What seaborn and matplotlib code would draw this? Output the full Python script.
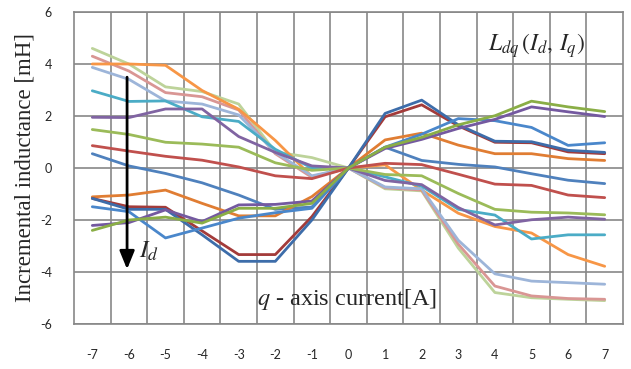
import numpy as np
import pandas as pd
import matplotlib
matplotlib.use("Agg")
import matplotlib.pyplot as plt
import seaborn as sns

q_current = [-7, -6, -5, -4, -3, -2, -1, 0, 1, 2, 3, 4, 5, 6, 7]
y_ticks = [-6, -4, -2, 0, 2, 4, 6]

s_a = [4.6, 4.0, 3.12, 2.94, 2.46, 0.62, 0.40, 0, -0.80, -0.88, -3.08, -4.79, -4.99, -5.05, -5.10]
s_b = [4.3, 3.73, 2.90, 2.74, 2.23, 0.55, -0.36, 0, -0.76, -0.85, -2.93, -4.54, -4.92, -5.02, -5.05]
s_c = [4.0, 4.0, 3.95, 2.98, 2.26, 1.06, -0.33, 0, 0.12, -0.85, -1.74, -2.25, -2.50, -3.33, -3.78]
s_d = [3.87, 3.41, 2.58, 2.46, 2.04, 0.60, -0.30, 0, -0.73, -0.80, -2.78, -4.07, -4.35, -4.41, -4.47]
s_e = [2.97, 2.56, 2.58, 1.97, 1.79, 0.72, 0.0, 0, -0.34, -0.70, -1.59, -1.81, -2.73, -2.57, -2.57]
s_f = [1.95, 1.94, 2.27, 2.27, 1.21, 0.60, 0.08, 0, -0.48, -0.64, -1.52, -2.19, -1.99, -1.89, -1.97]
s_g = [1.48, 1.29, 0.99, 0.92, 0.80, 0.20, -0.09, 0, -0.25, -0.30, -0.98, -1.59, -1.70, -1.73, -1.80]
s_h = [0.86, 0.65, 0.45, 0.30, 0.04, -0.30, -0.41, 0, 0.18, 0.13, -0.24, -0.62, -0.67, -1.04, -1.14]
s_i = [0.55, 0.08, -0.21, -0.57, -1.04, -1.59, -1.50, 0, 0.80, 0.29, 0.14, 0.04, -0.22, -0.47, -0.60]
s_j = [-1.11, -1.04, -0.85, -1.36, -1.84, -1.84, -1.10, 0, 1.08, 1.34, 0.88, 0.55, 0.55, 0.36, 0.29]
s_k = [-1.17, -1.49, -1.51, -2.42, -3.33, -3.33, -1.87, 0, 1.97, 2.43, 1.62, 0.99, 0.97, 0.62, 0.55]
s_l = [-1.17, -1.59, -1.59, -2.57, -3.59, -3.59, -2.00, 0, 2.10, 2.61, 1.66, 1.03, 1.01, 0.68, 0.60]
s_m = [-1.49, -1.68, -2.69, -2.31, -1.93, -1.72, -1.55, 0, 0.80, 1.30, 1.90, 1.82, 1.56, 0.87, 0.97]
s_n = [-2.21, -2.10, -1.61, -2.06, -1.42, -1.40, -1.27, 0, 0.75, 1.10, 1.52, 1.87, 2.35, 2.16, 1.98]
s_o = [-2.40, -2.00, -1.89, -2.12, -1.55, -1.55, -1.36, 0, 0.80, 1.18, 1.66, 2.01, 2.57, 2.35, 2.17]

series = {
    "a": s_a, "b": s_b, "c": s_c, "d": s_d, "e": s_e, "f": s_f, "g": s_g, "h": s_h,
    "i": s_i, "j": s_j, "k": s_k, "l": s_l, "m": s_m, "n": s_n, "o": s_o,
}
colors = {
    "a": "#BDD39A", "b": "#D99694", "c": "#F79646", "d": "#9DB5D9", "e": "#4BACC6",
    "f": "#8064A2", "g": "#9BBB59", "h": "#C0504D", "i": "#4F81BD", "j": "#E07D33",
    "k": "#A33B3A", "l": "#3D6DAA", "m": "#4A87CB", "n": "#7459A0", "o": "#8AAE46",
}

rows = []
for name, vals in series.items():
    for qv, v in zip(q_current, vals):
        rows.append({"q": qv, "L": v, "s": name})
df = pd.DataFrame(rows)

sns.set_style("white")
plt.rcParams["mathtext.fontset"] = "stix"

fig = plt.figure(figsize=(6.31, 3.69), dpi=100)
ax = fig.add_axes([74 / 631, 1 - 324 / 369, (623 - 74) / 631, (324 - 12) / 369])

grid_c = "#878787"
for xv in np.arange(-6.5, 7.0, 1.0):
    ax.axvline(xv, color=grid_c, lw=1.2, zorder=0)
for yv in y_ticks:
    ax.axhline(yv, color=grid_c, lw=1.2, zorder=0)

sns.lineplot(data=df, x="q", y="L", hue="s", palette=colors, estimator=None,
             sort=False, legend=False, lw=2.0, ax=ax, zorder=3)

ax.set_xlim(-7.5, 7.5)
ax.set_ylim(-6, 6)
ax.set_xticks(q_current)
ax.set_xticklabels([str(v) for v in q_current])
ax.set_yticks(y_ticks)
ax.set_yticklabels([str(v) for v in y_ticks])
ax.tick_params(axis="x", length=0, pad=18, labelsize=9)
ax.tick_params(axis="y", length=0, pad=16, labelsize=9)
for lab in ax.get_xticklabels() + ax.get_yticklabels():
    lab.set_fontfamily("Lato")
for sp in ax.spines.values():
    sp.set_color(grid_c)
    sp.set_linewidth(1.2)

ax.set_xlabel("")
ax.set_ylabel("Incremental inductance [mH]", family="Liberation Serif", fontsize=16.5, labelpad=3)

ax.annotate("", xy=(-6.05, -4.0), xytext=(-6.05, 3.6),
            arrowprops=dict(arrowstyle="-|>,head_length=1.1,head_width=0.45", color="black", lw=2),
            zorder=5)
ax.text(-5.45, -3.2, r"$I_d$", fontsize=18, ha="center", va="center", zorder=6)
ax.text(-0.05, -5.05, r"$q$" + " - axis current[A]", family="Liberation Serif", fontsize=17.5,
        ha="center", va="center", zorder=6)
ax.text(5.15, 4.7, r"$L_{dq}\,(I_d,\,I_q)$", fontsize=17, ha="center", va="center", zorder=6)

fig.savefig("out.png", dpi=100)
